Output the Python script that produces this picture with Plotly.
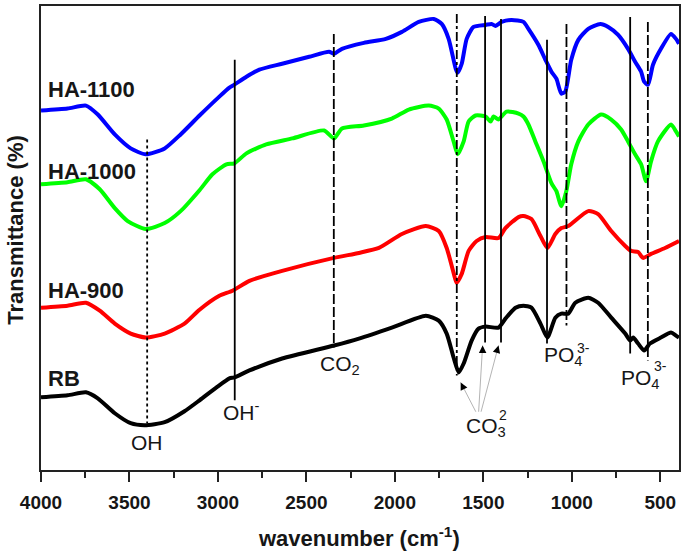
import plotly.graph_objects as go

# ---------------- data ----------------
ha1100_w = [4000,3850,3746,3679,3583,3493,3408,3301,3211,3104,2992,2935,2907,2839,2766,2637,2484,2372,2344,2299,2175,
            2051,1960,1865,1780,1735,1696,1656,1645,1622,1594,1555,1487,1453,1431,1397,1341,1273,1245,1189,1149,
            1115,1087,1059,1037,1003,963,907,839,794,738,682,642,608,591,569,541,496,439,411,394]
ha1100_t = [361,363,366,357,337,323,317,323,337,356,375,384,387,395,402,408,415,420,418,423,429,
            433,440,450,453,448,433,403,399,408,433,445,447,448,446,450,452,450,443,427,412,
            400,393,378,380,412,432,443,448,445,437,423,410,400,390,387,407,423,438,433,428]

ha1000_w = [4000,3850,3746,3668,3583,3510,3408,3301,3211,3104,3031,2952,2907,2839,2727,2580,2400,2344,2299,2175,2017,
            1921,1808,1752,1707,1668,1645,1611,1583,1544,1487,1459,1442,1414,1369,1301,1273,1245,1206,1160,1115,
            1087,1059,1031,1003,963,907,834,777,721,682,642,608,580,552,513,439,411,394]
ha1000_t = [287,289,292,282,263,250,242,248,260,281,297,307,308,318,327,333,341,333,343,346,353,
            362,366,363,352,330,317,330,350,356,355,350,355,352,360,358,355,347,330,310,288,
            280,265,280,307,330,347,357,352,342,330,317,307,290,310,330,347,340,335]

ha900_w = [4000,3850,3746,3668,3583,3493,3408,3301,3189,3104,2992,2918,2822,2637,2344,2203,2090,1960,1825,1752,1707,
           1668,1651,1622,1583,1538,1487,1414,1375,1301,1273,1228,1177,1138,1093,1059,1020,907,851,777,698,
           665,625,597,552,473,394]
ha900_t = [163,165,168,160,147,137,133,137,147,161,175,180,190,200,213,218,223,237,245,240,223,
           198,188,197,220,230,234,233,243,254,255,252,235,223,237,243,245,260,257,240,225,
           220,219,213,217,223,230]

rb_w = [4000,3850,3746,3679,3583,3493,3414,3301,3189,3104,3008,2935,2907,2822,2637,2344,2203,2017,1825,1752,1707,
        1668,1639,1611,1566,1527,1487,1414,1375,1318,1273,1228,1177,1138,1093,1059,1020,980,907,851,777,
        698,670,653,625,591,558,496,439,411,394]
rb_t = [73,75,78,72,57,47,45,48,59,70,83,92,93,100,112,125,132,143,155,150,137,
        113,98,107,130,142,144,143,152,163,165,163,147,133,153,157,157,168,173,168,153,
        137,130,133,127,120,127,133,138,135,133]

series_names = ["HA-1100", "HA-1000", "HA-900", "RB"]
series_colors = ["#0000ff", "#00ff00", "#ff0000", "#000000"]
series_label_y = [382, 300, 180, 92]

# band marker lines
marker_w = [3400, 2905, 2345, 1650, 1490, 1400, 1140, 1030, 670, 570]
marker_top = [332, 412, 438, 458, 456, 453, 432, 448, 455, 450]
marker_bottom = [47, 70, 123, 95, 128, 128, 127, 145, 117, 110]
marker_dash = ["dot", "solid", "10px,3px", "9px,3px,3px,3px", "solid", "solid", "solid",
               "10px,3px", "solid", "10px,3px"]

tick_vals = [4000, 3500, 3000, 2500, 2000, 1500, 1000, 500]
tick_text = ["4000", "3500", "3000", "2500", "2000", "1500", "1000", "500"]

FONT = "Liberation Sans, Arial, sans-serif"
TXT = "#161616"

fig = go.Figure()
all_w = [ha1100_w, ha1000_w, ha900_w, rb_w]
all_t = [ha1100_t, ha1000_t, ha900_t, rb_t]
for name, col, w, t in zip(series_names, series_colors, all_w, all_t):
    fig.add_trace(go.Scatter(x=w, y=t, mode="lines", name=name,
                             line=dict(color=col, width=4, shape="spline", smoothing=0.6),
                             showlegend=False, hoverinfo="skip"))

for w, top, bot, d in zip(marker_w, marker_top, marker_bottom, marker_dash):
    fig.add_trace(go.Scatter(x=[w, w], y=[top, bot], mode="lines",
                             line=dict(color="#000000", width=1.8, dash=d),
                             showlegend=False, hoverinfo="skip"))

ann = []
for name, ly in zip(series_names, series_label_y):
    ann.append(dict(x=3972, y=ly, xref="x", yref="y", text="<b>%s</b>" % name, showarrow=False,
                    xanchor="left", yanchor="middle", font=dict(family=FONT, size=22, color=TXT)))

lab = dict(family=FONT, size=21, color=TXT)
small = dict(family=FONT, size=14, color=TXT)
ann += [
    dict(x=3400, y=28, text="OH", showarrow=False, font=lab),
    dict(x=2868, y=59, text="OH<sup>-</sup>", showarrow=False, font=lab),
    dict(x=2310, y=105, text="CO<sub>2</sub>", showarrow=False, font=lab),
    dict(x=1487, y=43, text="CO<sub>3</sub>", showarrow=False, font=lab),
    dict(x=1386, y=55, text="2", showarrow=False, font=small),
    dict(x=1048, y=114, text="PO<sub>4</sub>", showarrow=False, font=lab),
    dict(x=935, y=123, text="3-", showarrow=False, font=small),
    dict(x=614, y=91, text="PO<sub>4</sub>", showarrow=False, font=lab),
    dict(x=501, y=104, text="3-", showarrow=False, font=small),
]
for a in ann[4:]:
    a.update(xref="x", yref="y")

# grey pointer lines from the CO3 label and black arrowheads
heads = [(1628, 88, 1538, 57, 3, 6), (1504, 125, 1527, 57, 0, 7), (1414, 125, 1515, 57, -2, 7)]
for hx, hy, tx, ty, pax, pay in heads:
    ann.append(dict(x=hx, y=hy, xref="x", yref="y", ax=tx, ay=ty, axref="x", ayref="y",
                    text="", showarrow=True, arrowhead=0, arrowwidth=1, arrowcolor="#b4b4b4"))
    ann.append(dict(x=hx, y=hy, xref="x", yref="y", ax=pax, ay=pay, text="", showarrow=True,
                    arrowhead=2, arrowsize=1, arrowwidth=1.5, arrowcolor="#000000"))

ann.append(dict(x=-0.040, y=0.519, xref="paper", yref="paper", xanchor="center", yanchor="middle",
                text="<b>Transmittance (%)</b>",
                textangle=-90, showarrow=False, font=dict(family=FONT, size=22, color=TXT)))
ann.append(dict(x=0.498, y=-0.144, xref="paper", yref="paper", xanchor="center", yanchor="middle",
                text="<b>wavenumber (cm<sup>-1</sup>)</b>",
                showarrow=False, font=dict(family=FONT, size=22, color=TXT)))

fig.update_layout(
    width=685, height=553,
    margin=dict(l=41, r=4, t=4, b=83),
    paper_bgcolor="white", plot_bgcolor="white",
    annotations=ann,
    xaxis=dict(range=[4000, 394], tickvals=tick_vals, ticktext=tick_text,
               ticks="outside", ticklen=10, tickwidth=2, tickcolor="#222",
               minor=dict(dtick=250, tick0=0, ticks="outside", ticklen=6, tickwidth=2, tickcolor="#222"),
               showline=True, linewidth=2, linecolor="#222", mirror=True,
               showgrid=False, zeroline=False, ticklabelstandoff=4,
               tickfont=dict(family=FONT, size=19, color=TXT, weight="bold")),
    yaxis=dict(range=[0, 466], showticklabels=False, ticks="", showgrid=False, zeroline=False,
               showline=True, linewidth=2, linecolor="#222", mirror=True),
)

fig.write_html("out.html", config={"displayModeBar": False},
               post_script="document.body.style.margin='0px';")
